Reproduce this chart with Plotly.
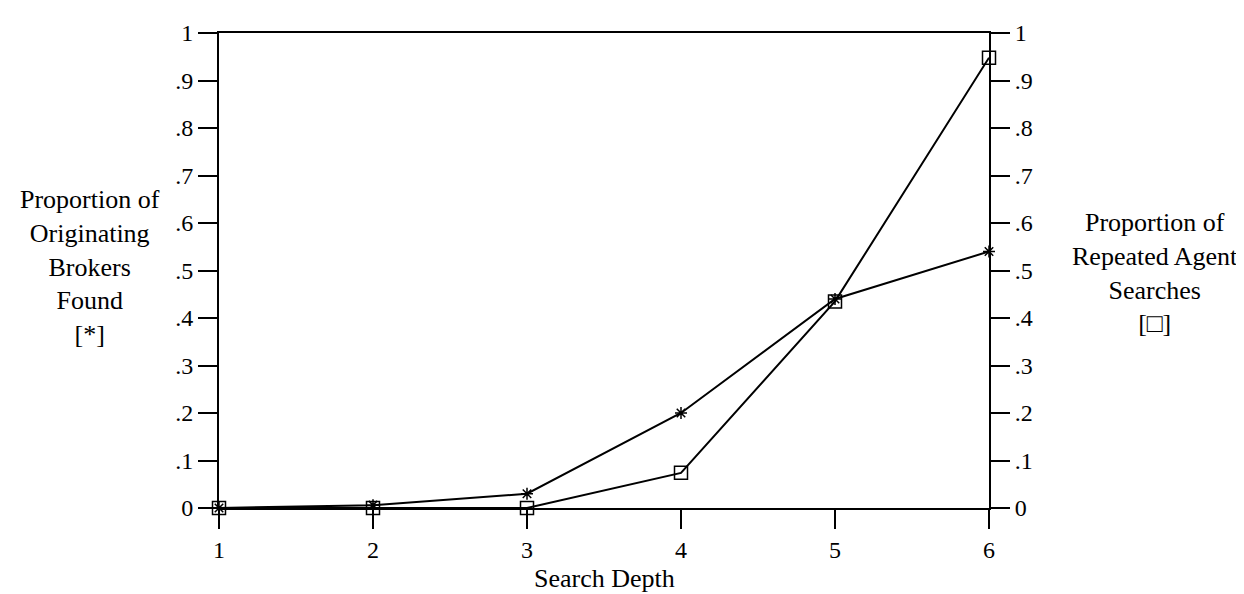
import plotly.graph_objects as go

depth = [1, 2, 3, 4, 5, 6]
brokers_found = [0.0, 0.006, 0.03, 0.2, 0.44, 0.54]
repeated_searches = [0.0, 0.0, 0.0, 0.074, 0.435, 0.948]
tick_vals = [0, 0.1, 0.2, 0.3, 0.4, 0.5, 0.6, 0.7, 0.8, 0.9, 1]
tick_text = ["0", ".1", ".2", ".3", ".4", ".5", ".6", ".7", ".8", ".9", "1"]

FONT = "Liberation Serif, Times New Roman, serif"
FS = 24
TFS = 26

fig = go.Figure()
fig.add_trace(go.Scatter(
    x=depth, y=brokers_found, mode="lines+markers", cliponaxis=False,
    line=dict(color="black", width=2),
    marker=dict(symbol="asterisk-open", size=10, color="black",
                line=dict(color="black", width=1.5)),
    yaxis="y", showlegend=False))
fig.add_trace(go.Scatter(
    x=depth, y=repeated_searches, mode="lines+markers", cliponaxis=False,
    line=dict(color="black", width=2),
    marker=dict(symbol="square-open", size=13, color="black",
                line=dict(color="black", width=1.5)),
    yaxis="y2", showlegend=False))

axis_common = dict(showline=True, linecolor="black", linewidth=2,
                   ticks="outside", ticklen=19, tickwidth=2, tickcolor="black",
                   showgrid=False, zeroline=False,
                   tickfont=dict(family=FONT, size=FS, color="black"))

fig.update_layout(
    width=1244, height=594,
    margin=dict(l=211, r=263, t=22, b=94),
    paper_bgcolor="white", plot_bgcolor="white",
    font=dict(family=FONT, size=FS, color="black"),
    xaxis=dict(range=[1, 6], tickvals=depth, mirror=True, **axis_common),
    yaxis=dict(range=[0, 1], tickvals=tick_vals, ticktext=tick_text, **axis_common),
    yaxis2=dict(range=[0, 1], tickvals=tick_vals, ticktext=tick_text,
                overlaying="y", side="right", **axis_common),
    annotations=[
        dict(text="Proportion of<br>Originating<br>Brokers<br>Found<br>[*]",
             xref="paper", yref="paper", x=-0.1675, y=0.508,
             showarrow=False, align="center", xanchor="center", yanchor="middle",
             font=dict(family=FONT, size=TFS, color="black")),
        dict(text="Proportion of<br>Repeated Agent<br>Searches<br>[\u25a1]",
             xref="paper", yref="paper", x=1.2156, y=0.494,
             showarrow=False, align="center", xanchor="center", yanchor="middle",
             font=dict(family=FONT, size=TFS, color="black")),
        dict(text="Search Depth", xref="paper", yref="paper", x=0.5, y=-0.148,
             showarrow=False, xanchor="center", yanchor="middle",
             font=dict(family=FONT, size=TFS, color="black")),
    ],
)

fig.write_html("out.html")
